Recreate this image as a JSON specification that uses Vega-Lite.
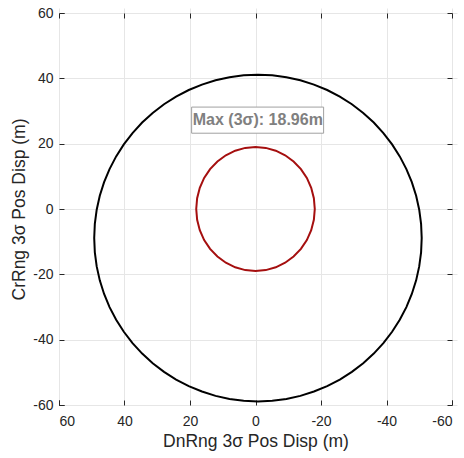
{
  "$schema": "https://vega.github.io/schema/vega-lite/v6.json",
  "width": 393,
  "height": 392,
  "autosize": "none",
  "padding": {"left": 59, "top": 13, "right": 12, "bottom": 53},
  "background": "white",
  "config": {
    "view": {"stroke": "#262626", "strokeWidth": 1},
    "axis": {
      "labelFont": "Liberation Sans",
      "titleFont": "Liberation Sans",
      "labelColor": "#262626",
      "titleColor": "#262626",
      "labelFontSize": 14,
      "titleFontSize": 17.5,
      "titleFontWeight": "normal",
      "gridColor": "#e6e6e6",
      "domain": false,
      "tickColor": "#262626",
      "tickSize": 5,
      "offset": -5,
      "labelExpr": "datum.value < 0 ? '-' + abs(datum.value) : '' + datum.value"
    }
  },
  "datasets": {
    "curves": [
      {"s": "outer", "o": 0, "x": 49.25, "y": -8.9},
      {"s": "outer", "o": 1, "x": 49.06, "y": -4.54},
      {"s": "outer", "o": 2, "x": 48.49, "y": -0.22},
      {"s": "outer", "o": 3, "x": 47.55, "y": 4.04},
      {"s": "outer", "o": 4, "x": 46.23, "y": 8.2},
      {"s": "outer", "o": 5, "x": 44.57, "y": 12.23},
      {"s": "outer", "o": 6, "x": 42.55, "y": 16.1},
      {"s": "outer", "o": 7, "x": 40.21, "y": 19.78},
      {"s": "outer", "o": 8, "x": 37.55, "y": 23.24},
      {"s": "outer", "o": 9, "x": 34.61, "y": 26.46},
      {"s": "outer", "o": 10, "x": 31.39, "y": 29.4},
      {"s": "outer", "o": 11, "x": 27.93, "y": 32.06},
      {"s": "outer", "o": 12, "x": 24.25, "y": 34.4},
      {"s": "outer", "o": 13, "x": 20.38, "y": 36.42},
      {"s": "outer", "o": 14, "x": 16.35, "y": 38.08},
      {"s": "outer", "o": 15, "x": 12.19, "y": 39.4},
      {"s": "outer", "o": 16, "x": 7.93, "y": 40.34},
      {"s": "outer", "o": 17, "x": 3.61, "y": 40.91},
      {"s": "outer", "o": 18, "x": -0.75, "y": 41.1},
      {"s": "outer", "o": 19, "x": -5.11, "y": 40.91},
      {"s": "outer", "o": 20, "x": -9.43, "y": 40.34},
      {"s": "outer", "o": 21, "x": -13.69, "y": 39.4},
      {"s": "outer", "o": 22, "x": -17.85, "y": 38.08},
      {"s": "outer", "o": 23, "x": -21.88, "y": 36.42},
      {"s": "outer", "o": 24, "x": -25.75, "y": 34.4},
      {"s": "outer", "o": 25, "x": -29.43, "y": 32.06},
      {"s": "outer", "o": 26, "x": -32.89, "y": 29.4},
      {"s": "outer", "o": 27, "x": -36.11, "y": 26.46},
      {"s": "outer", "o": 28, "x": -39.05, "y": 23.24},
      {"s": "outer", "o": 29, "x": -41.71, "y": 19.78},
      {"s": "outer", "o": 30, "x": -44.05, "y": 16.1},
      {"s": "outer", "o": 31, "x": -46.07, "y": 12.23},
      {"s": "outer", "o": 32, "x": -47.73, "y": 8.2},
      {"s": "outer", "o": 33, "x": -49.05, "y": 4.04},
      {"s": "outer", "o": 34, "x": -49.99, "y": -0.22},
      {"s": "outer", "o": 35, "x": -50.56, "y": -4.54},
      {"s": "outer", "o": 36, "x": -50.75, "y": -8.9},
      {"s": "outer", "o": 37, "x": -50.56, "y": -13.26},
      {"s": "outer", "o": 38, "x": -49.99, "y": -17.58},
      {"s": "outer", "o": 39, "x": -49.05, "y": -21.84},
      {"s": "outer", "o": 40, "x": -47.73, "y": -26.0},
      {"s": "outer", "o": 41, "x": -46.07, "y": -30.03},
      {"s": "outer", "o": 42, "x": -44.05, "y": -33.9},
      {"s": "outer", "o": 43, "x": -41.71, "y": -37.58},
      {"s": "outer", "o": 44, "x": -39.05, "y": -41.04},
      {"s": "outer", "o": 45, "x": -36.11, "y": -44.26},
      {"s": "outer", "o": 46, "x": -32.89, "y": -47.2},
      {"s": "outer", "o": 47, "x": -29.43, "y": -49.86},
      {"s": "outer", "o": 48, "x": -25.75, "y": -52.2},
      {"s": "outer", "o": 49, "x": -21.88, "y": -54.22},
      {"s": "outer", "o": 50, "x": -17.85, "y": -55.88},
      {"s": "outer", "o": 51, "x": -13.69, "y": -57.2},
      {"s": "outer", "o": 52, "x": -9.43, "y": -58.14},
      {"s": "outer", "o": 53, "x": -5.11, "y": -58.71},
      {"s": "outer", "o": 54, "x": -0.75, "y": -58.9},
      {"s": "outer", "o": 55, "x": 3.61, "y": -58.71},
      {"s": "outer", "o": 56, "x": 7.93, "y": -58.14},
      {"s": "outer", "o": 57, "x": 12.19, "y": -57.2},
      {"s": "outer", "o": 58, "x": 16.35, "y": -55.88},
      {"s": "outer", "o": 59, "x": 20.38, "y": -54.22},
      {"s": "outer", "o": 60, "x": 24.25, "y": -52.2},
      {"s": "outer", "o": 61, "x": 27.93, "y": -49.86},
      {"s": "outer", "o": 62, "x": 31.39, "y": -47.2},
      {"s": "outer", "o": 63, "x": 34.61, "y": -44.26},
      {"s": "outer", "o": 64, "x": 37.55, "y": -41.04},
      {"s": "outer", "o": 65, "x": 40.21, "y": -37.58},
      {"s": "outer", "o": 66, "x": 42.55, "y": -33.9},
      {"s": "outer", "o": 67, "x": 44.57, "y": -30.03},
      {"s": "outer", "o": 68, "x": 46.23, "y": -26.0},
      {"s": "outer", "o": 69, "x": 47.55, "y": -21.84},
      {"s": "outer", "o": 70, "x": 48.49, "y": -17.58},
      {"s": "outer", "o": 71, "x": 49.06, "y": -13.26},
      {"s": "outer", "o": 72, "x": 49.25, "y": -8.9},
      {"s": "inner", "o": 0, "x": 18.1, "y": 0},
      {"s": "inner", "o": 1, "x": 17.82, "y": 3.3},
      {"s": "inner", "o": 2, "x": 17.01, "y": 6.5},
      {"s": "inner", "o": 3, "x": 15.68, "y": 9.5},
      {"s": "inner", "o": 4, "x": 13.87, "y": 12.21},
      {"s": "inner", "o": 5, "x": 11.63, "y": 14.55},
      {"s": "inner", "o": 6, "x": 9.05, "y": 16.45},
      {"s": "inner", "o": 7, "x": 6.19, "y": 17.85},
      {"s": "inner", "o": 8, "x": 3.14, "y": 18.71},
      {"s": "inner", "o": 9, "x": 0, "y": 19},
      {"s": "inner", "o": 10, "x": -3.14, "y": 18.71},
      {"s": "inner", "o": 11, "x": -6.19, "y": 17.85},
      {"s": "inner", "o": 12, "x": -9.05, "y": 16.45},
      {"s": "inner", "o": 13, "x": -11.63, "y": 14.55},
      {"s": "inner", "o": 14, "x": -13.87, "y": 12.21},
      {"s": "inner", "o": 15, "x": -15.68, "y": 9.5},
      {"s": "inner", "o": 16, "x": -17.01, "y": 6.5},
      {"s": "inner", "o": 17, "x": -17.82, "y": 3.3},
      {"s": "inner", "o": 18, "x": -18.1, "y": 0},
      {"s": "inner", "o": 19, "x": -17.82, "y": -3.3},
      {"s": "inner", "o": 20, "x": -17.01, "y": -6.5},
      {"s": "inner", "o": 21, "x": -15.68, "y": -9.5},
      {"s": "inner", "o": 22, "x": -13.87, "y": -12.21},
      {"s": "inner", "o": 23, "x": -11.63, "y": -14.55},
      {"s": "inner", "o": 24, "x": -9.05, "y": -16.45},
      {"s": "inner", "o": 25, "x": -6.19, "y": -17.85},
      {"s": "inner", "o": 26, "x": -3.14, "y": -18.71},
      {"s": "inner", "o": 27, "x": 0, "y": -19},
      {"s": "inner", "o": 28, "x": 3.14, "y": -18.71},
      {"s": "inner", "o": 29, "x": 6.19, "y": -17.85},
      {"s": "inner", "o": 30, "x": 9.05, "y": -16.45},
      {"s": "inner", "o": 31, "x": 11.63, "y": -14.55},
      {"s": "inner", "o": 32, "x": 13.87, "y": -12.21},
      {"s": "inner", "o": 33, "x": 15.68, "y": -9.5},
      {"s": "inner", "o": 34, "x": 17.01, "y": -6.5},
      {"s": "inner", "o": 35, "x": 17.82, "y": -3.3},
      {"s": "inner", "o": 36, "x": 18.1, "y": 0}
    ],
    "note": [
      {"x": -0.7, "y": 27.2, "x1": 19.5, "x2": -20.8, "y1": 31.2, "y2": 23.2, "label": "Max (3σ): 18.96m"}
    ]
  },
  "resolve": {"axis": {"x": "independent", "y": "independent"}},
  "layer": [
    {
      "data": {"name": "curves"},
      "mark": {"type": "line", "strokeWidth": 2},
      "encoding": {
        "x": {
          "field": "x", "type": "quantitative",
          "scale": {"domain": [-60, 60], "reverse": true, "nice": false, "zero": false},
          "axis": {"values": [60, 40, 20, 0, -20, -40, -60], "title": "DnRng 3σ Pos Disp (m)", "labelPadding": 9, "titlePadding": 4}
        },
        "y": {
          "field": "y", "type": "quantitative",
          "scale": {"domain": [-60, 60], "nice": false, "zero": false},
          "axis": {"values": [-60, -40, -20, 0, 20, 40, 60], "title": "CrRng 3σ Pos Disp (m)", "labelPadding": 6, "titlePadding": 4}
        },
        "order": {"field": "o", "type": "quantitative"},
        "color": {"field": "s", "type": "nominal", "scale": {"domain": ["outer", "inner"], "range": ["#000000", "#a50f0f"]}, "legend": null}
      }
    },
    {
      "data": {"name": "note"},
      "mark": {"type": "rect", "fill": "white", "stroke": "#a0a0a0", "strokeWidth": 1},
      "encoding": {
        "x": {"field": "x1", "type": "quantitative", "axis": {"orient": "top", "values": [60, 40, 20, 0, -20, -40, -60], "labels": false, "title": null, "grid": false}},
        "x2": {"field": "x2"},
        "y": {"field": "y1", "type": "quantitative", "axis": {"orient": "right", "values": [-60, -40, -20, 0, 20, 40, 60], "labels": false, "title": null, "grid": false}},
        "y2": {"field": "y2"}
      }
    },
    {
      "data": {"name": "note"},
      "mark": {"type": "text", "font": "Liberation Sans", "fontSize": 16, "fontWeight": "bold", "fill": "#808080", "align": "center", "baseline": "middle"},
      "encoding": {
        "x": {"field": "x", "type": "quantitative", "axis": null},
        "y": {"field": "y", "type": "quantitative", "axis": null},
        "text": {"field": "label"}
      }
    }
  ]
}
